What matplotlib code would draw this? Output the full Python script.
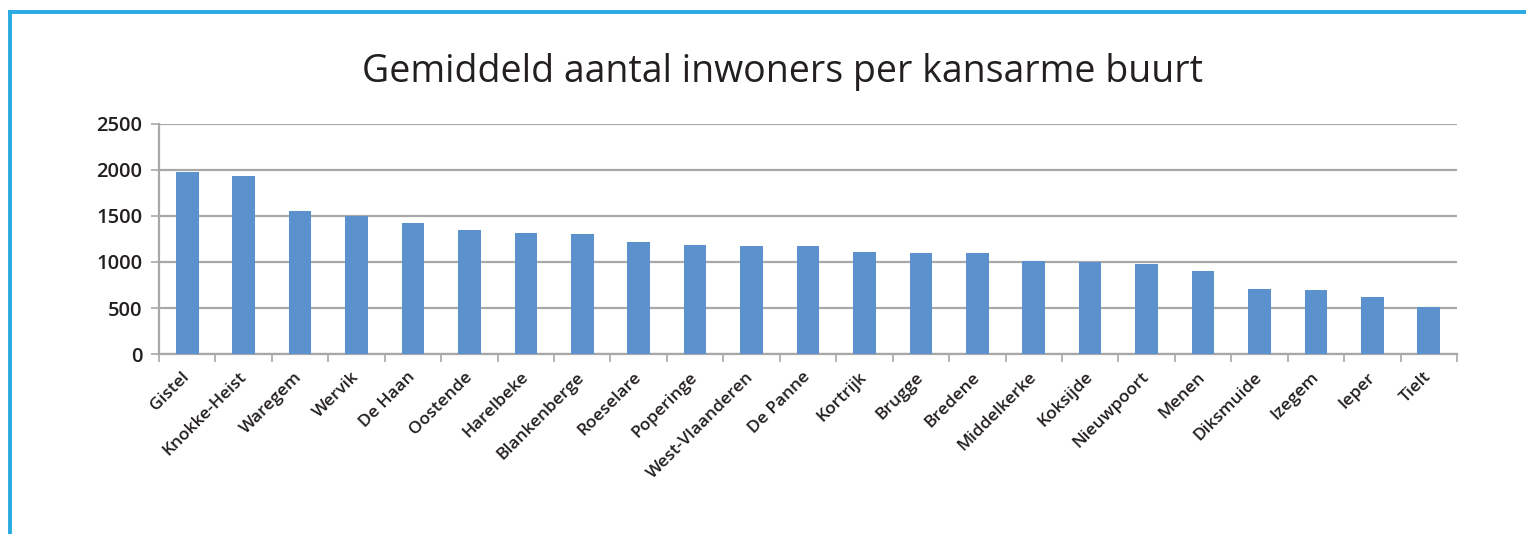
import matplotlib
matplotlib.use("Agg")
import matplotlib.pyplot as plt
from matplotlib.ticker import FixedLocator
from matplotlib.lines import Line2D

plt.rcParams['font.family'] = ['Open Sans', 'DejaVu Sans']

title = "Gemiddeld aantal inwoners per kansarme buurt"
gemeenten = ["Gistel", "Knokke-Heist", "Waregem", "Wervik", "De Haan", "Oostende",
             "Harelbeke", "Blankenberge", "Roeselare", "Poperinge", "West-Vlaanderen",
             "De Panne", "Kortrijk", "Brugge", "Bredene", "Middelkerke", "Koksijde",
             "Nieuwpoort", "Menen", "Diksmuide", "Izegem", "Ieper", "Tielt"]
inwoners = [1980, 1940, 1555, 1500, 1422, 1348, 1312, 1302, 1212, 1186, 1178,
            1175, 1114, 1096, 1095, 1016, 998, 983, 900, 707, 693, 617, 511]
yticks = [0, 500, 1000, 1500, 2000, 2500]

bar_color = "#5B92CD"
grid_color = "#A8A8A8"
text_color = "#231F20"

fig = plt.figure(figsize=(15.26, 5.34), dpi=100)
ax = fig.add_axes([159/1526, 1 - 354/534, (1457-159)/1526, (354-124)/534])

x = list(range(len(gemeenten)))
ax.bar(x, inwoners, width=0.4, color=bar_color, zorder=3)

ax.set_xlim(-0.5, len(gemeenten) - 0.5)
ax.set_ylim(0, 2500)
ax.set_yticks(yticks)
ax.set_yticklabels([str(v) for v in yticks], fontsize=14.5, color=text_color,
                   fontweight='semibold')
ax.yaxis.grid(True, color=grid_color, linewidth=1.6, zorder=0)
ax.tick_params(axis='y', length=6, width=1.2, color=grid_color, pad=6)

ax.set_xticks(x)
ax.set_xticklabels(gemeenten, rotation=45, ha='right', va='center',
                   rotation_mode='anchor', fontsize=12.5, color=text_color,
                   fontweight='semibold')
ax.tick_params(axis='x', which='major', length=0, pad=15)
ax.xaxis.set_minor_locator(FixedLocator([i - 0.5 for i in range(len(gemeenten) + 1)]))
ax.tick_params(axis='x', which='minor', length=6, width=1.2, color=grid_color)

for s in ['top', 'right']:
    ax.spines[s].set_visible(False)
for s in ['left', 'bottom']:
    ax.spines[s].set_color(grid_color)
    ax.spines[s].set_linewidth(1.6)

fig.text(782/1526, 1 - 72/534, title, ha='center', va='center', fontsize=27,
         color=text_color)

# blue frame (top and left)
fig.add_artist(Line2D([10/1526, 1], [1 - 12/534, 1 - 12/534], color="#29ABE2",
                      linewidth=2.8, transform=fig.transFigure))
fig.add_artist(Line2D([10/1526, 10/1526], [0, 1 - 12/534], color="#29ABE2",
                      linewidth=2.8, transform=fig.transFigure))

fig.savefig("out.png", dpi=100, facecolor="white")
